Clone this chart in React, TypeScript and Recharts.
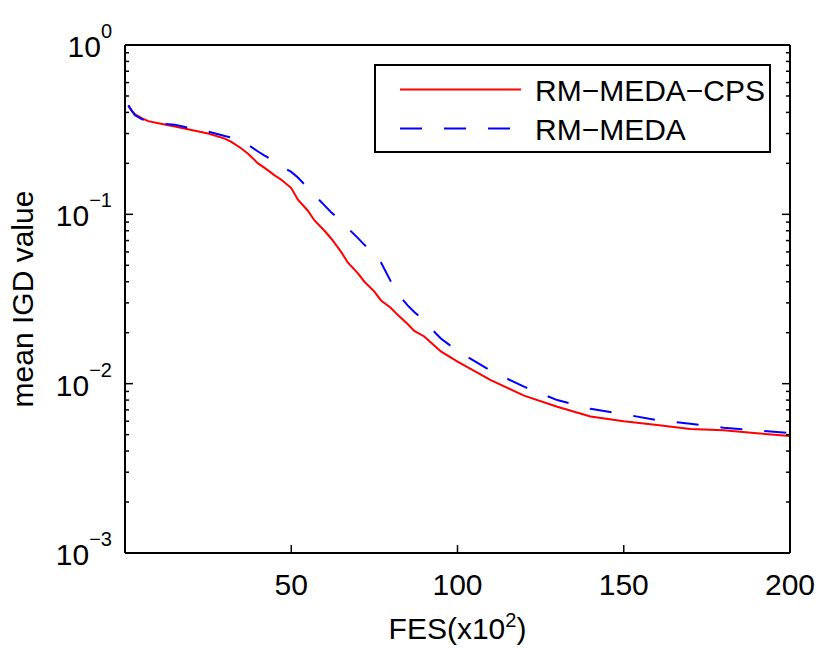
import { LineChart, Line, XAxis, YAxis, Legend, Label } from 'recharts'

// FES (x10^2) sample positions and mean IGD values
const fes = [1, 2, 3, 4, 5, 7, 10, 15, 20, 25, 30, 32, 35, 37, 40, 42, 45, 47, 50, 52, 55, 57, 60, 62, 65, 67, 70, 72, 75, 77, 80, 82, 85, 87, 90, 92, 95, 100, 110, 120, 130, 140, 150, 160, 170, 180, 190, 200]
const cpsIgd = [0.44, 0.41, 0.39, 0.38, 0.37, 0.355, 0.345, 0.33, 0.315, 0.3, 0.28, 0.268, 0.245, 0.228, 0.2, 0.188, 0.17, 0.16, 0.143, 0.122, 0.105, 0.092, 0.08, 0.072, 0.06, 0.052, 0.045, 0.04, 0.035, 0.031, 0.028, 0.0255, 0.0225, 0.0205, 0.019, 0.0175, 0.0155, 0.0135, 0.0105, 0.0085, 0.0073, 0.0064, 0.006, 0.0057, 0.0054, 0.0053, 0.0051, 0.0049]
const medaIgd = [0.44, 0.41, 0.385, 0.375, 0.365, 0.355, 0.345, 0.338, 0.322, 0.308, 0.29, 0.284, 0.27, 0.258, 0.235, 0.222, 0.205, 0.192, 0.178, 0.165, 0.143, 0.13, 0.113, 0.103, 0.091, 0.083, 0.0726, 0.066, 0.059, 0.052, 0.04, 0.034, 0.029, 0.0265, 0.0235, 0.0212, 0.0185, 0.0156, 0.0119, 0.0096, 0.008, 0.0071, 0.0066, 0.0061, 0.0058, 0.0055, 0.0053, 0.0051]

const xTicks = [50, 100, 150, 200]
const decades = [-3, -2, -1, 0]
const minorSteps = [2, 3, 4, 5, 6, 7, 8, 9]

const yTicks = decades.flatMap((d) =>
  d < 0 ? [10 ** d, ...minorSteps.map((m) => m * 10 ** d)] : [10 ** d]
)

const rows = fes.map((f, i) => ({ fes: f, cps: cpsIgd[i], meda: medaIgd[i] }))

const FONT = '"Liberation Sans", Arial, Helvetica, sans-serif'
const DASH = '22 22'

function decadeOf(v: number) {
  const l = Math.log10(v)
  const e = Math.round(l)
  return { e, major: Math.abs(l - e) < 1e-6 }
}

function LeftTick({ x, y, payload }: any) {
  const { e, major } = decadeOf(payload.value)
  return (
    <g>
      <line x1={x} x2={x + (major ? 8 : 4)} y1={y} y2={y} stroke="#000" strokeWidth={1.5} />
      {major && (
        <text x={x - 13} y={y + 12} textAnchor="end" fontSize={30} fontFamily={FONT} fill="#000">
          10
          <tspan dy={-19} fontSize={20}>
            {e === 0 ? '0' : '\u2212' + -e}
          </tspan>
        </text>
      )}
    </g>
  )
}

function RightTick({ x, y, payload }: any) {
  const { major } = decadeOf(payload.value)
  return <line x1={x} x2={x - (major ? 8 : 4)} y1={y} y2={y} stroke="#000" strokeWidth={1.5} />
}

function BottomTick({ x, y, payload }: any) {
  return (
    <g>
      <line x1={x} x2={x} y1={y} y2={y - 8} stroke="#000" strokeWidth={1.5} />
      <text x={x} y={y + 42} textAnchor="middle" fontSize={30} fontFamily={FONT} fill="#000">
        {payload.value}
      </text>
    </g>
  )
}

function TopTick({ x, y }: any) {
  return <line x1={x} x2={x} y1={y} y2={y + 8} stroke="#000" strokeWidth={1.5} />
}

function YTitle({ viewBox }: any) {
  const cx = 33
  const cy = viewBox.y + viewBox.height / 2
  return (
    <text x={cx} y={cy} transform={`rotate(-90, ${cx}, ${cy})`} textAnchor="middle" fontSize={30} fontFamily={FONT} fill="#000">
      mean IGD value
    </text>
  )
}

function XTitle({ viewBox }: any) {
  return (
    <text x={viewBox.x + viewBox.width / 2} y={viewBox.y + 86} textAnchor="middle" fontSize={30} fontFamily={FONT} fill="#000">
      FES(x10
      <tspan dy={-12} fontSize={20}>2</tspan>
      <tspan dy={12}>)</tspan>
    </text>
  )
}

const legendOrder = ['cps', 'meda']

function BoxLegend({ payload }: any) {
  const items = [...(payload || [])].sort(
    (a: any, b: any) => legendOrder.indexOf(a.dataKey) - legendOrder.indexOf(b.dataKey)
  )
  return (
    <svg width={397} height={89} style={{ display: 'block' }}>
      <rect x={1} y={1} width={395} height={87} fill="#fff" stroke="#000" strokeWidth={2} />
      {items.map((entry: any, i: number) => {
        const cy = 25.5 + i * 39
        return (
          <g key={entry.value}>
            <line
              x1={26}
              x2={147}
              y1={cy}
              y2={cy}
              stroke={entry.color}
              strokeWidth={2}
              strokeDasharray={entry.payload?.strokeDasharray}
            />
            <text x={161} y={cy + 11} fontSize={30} fontFamily={FONT} fill="#000">
              {entry.value}
            </text>
          </g>
        )
      })}
    </svg>
  )
}

const axisLine = { stroke: '#000', strokeWidth: 2 }

export default function App() {
  return (
    <div style={{ position: 'absolute', left: 0, top: 0, background: '#fff' }}>
      <LineChart width={830} height={650} data={rows} margin={{ top: 5, right: 0, bottom: 0, left: 0 }}>
        <XAxis
          xAxisId="b"
          dataKey="fes"
          type="number"
          domain={[0, 200]}
          ticks={xTicks}
          interval={0}
          height={97}
          tick={BottomTick}
          tickLine={false}
          tickSize={0}
          tickMargin={0}
          axisLine={axisLine}
          allowDataOverflow
        >
          <Label content={XTitle} />
        </XAxis>
        <XAxis
          xAxisId="t"
          orientation="top"
          type="number"
          domain={[0, 200]}
          ticks={xTicks}
          interval={0}
          height={40}
          tick={TopTick}
          tickLine={false}
          tickSize={0}
          tickMargin={0}
          axisLine={axisLine}
          allowDataOverflow
        />
        <YAxis
          yAxisId="l"
          scale="log"
          type="number"
          domain={[0.001, 1]}
          ticks={yTicks}
          interval={0}
          width={125}
          tick={LeftTick}
          tickLine={false}
          tickSize={0}
          tickMargin={0}
          axisLine={axisLine}
          allowDataOverflow
        >
          <Label content={YTitle} />
        </YAxis>
        <YAxis
          yAxisId="r"
          orientation="right"
          scale="log"
          type="number"
          domain={[0.001, 1]}
          ticks={yTicks}
          interval={0}
          width={40}
          tick={RightTick}
          tickLine={false}
          tickSize={0}
          tickMargin={0}
          axisLine={axisLine}
          allowDataOverflow
        />
        <Legend
          layout="vertical"
          align="center"
          verticalAlign="middle"
          wrapperStyle={{ left: 374, top: 64, width: 397, height: 89 }}
          content={BoxLegend}
        />
        <Line
          xAxisId="b"
          yAxisId="l"
          type="linear"
          dataKey="cps"
          name="RM−MEDA−CPS"
          stroke="#ff0000"
          strokeWidth={2}
          dot={false}
          isAnimationActive={false}
        />
        <Line
          xAxisId="b"
          yAxisId="l"
          type="linear"
          dataKey="meda"
          name="RM−MEDA"
          stroke="#0000ff"
          strokeWidth={2}
          strokeDasharray={DASH}
          dot={false}
          isAnimationActive={false}
        />
      </LineChart>
    </div>
  )
}
